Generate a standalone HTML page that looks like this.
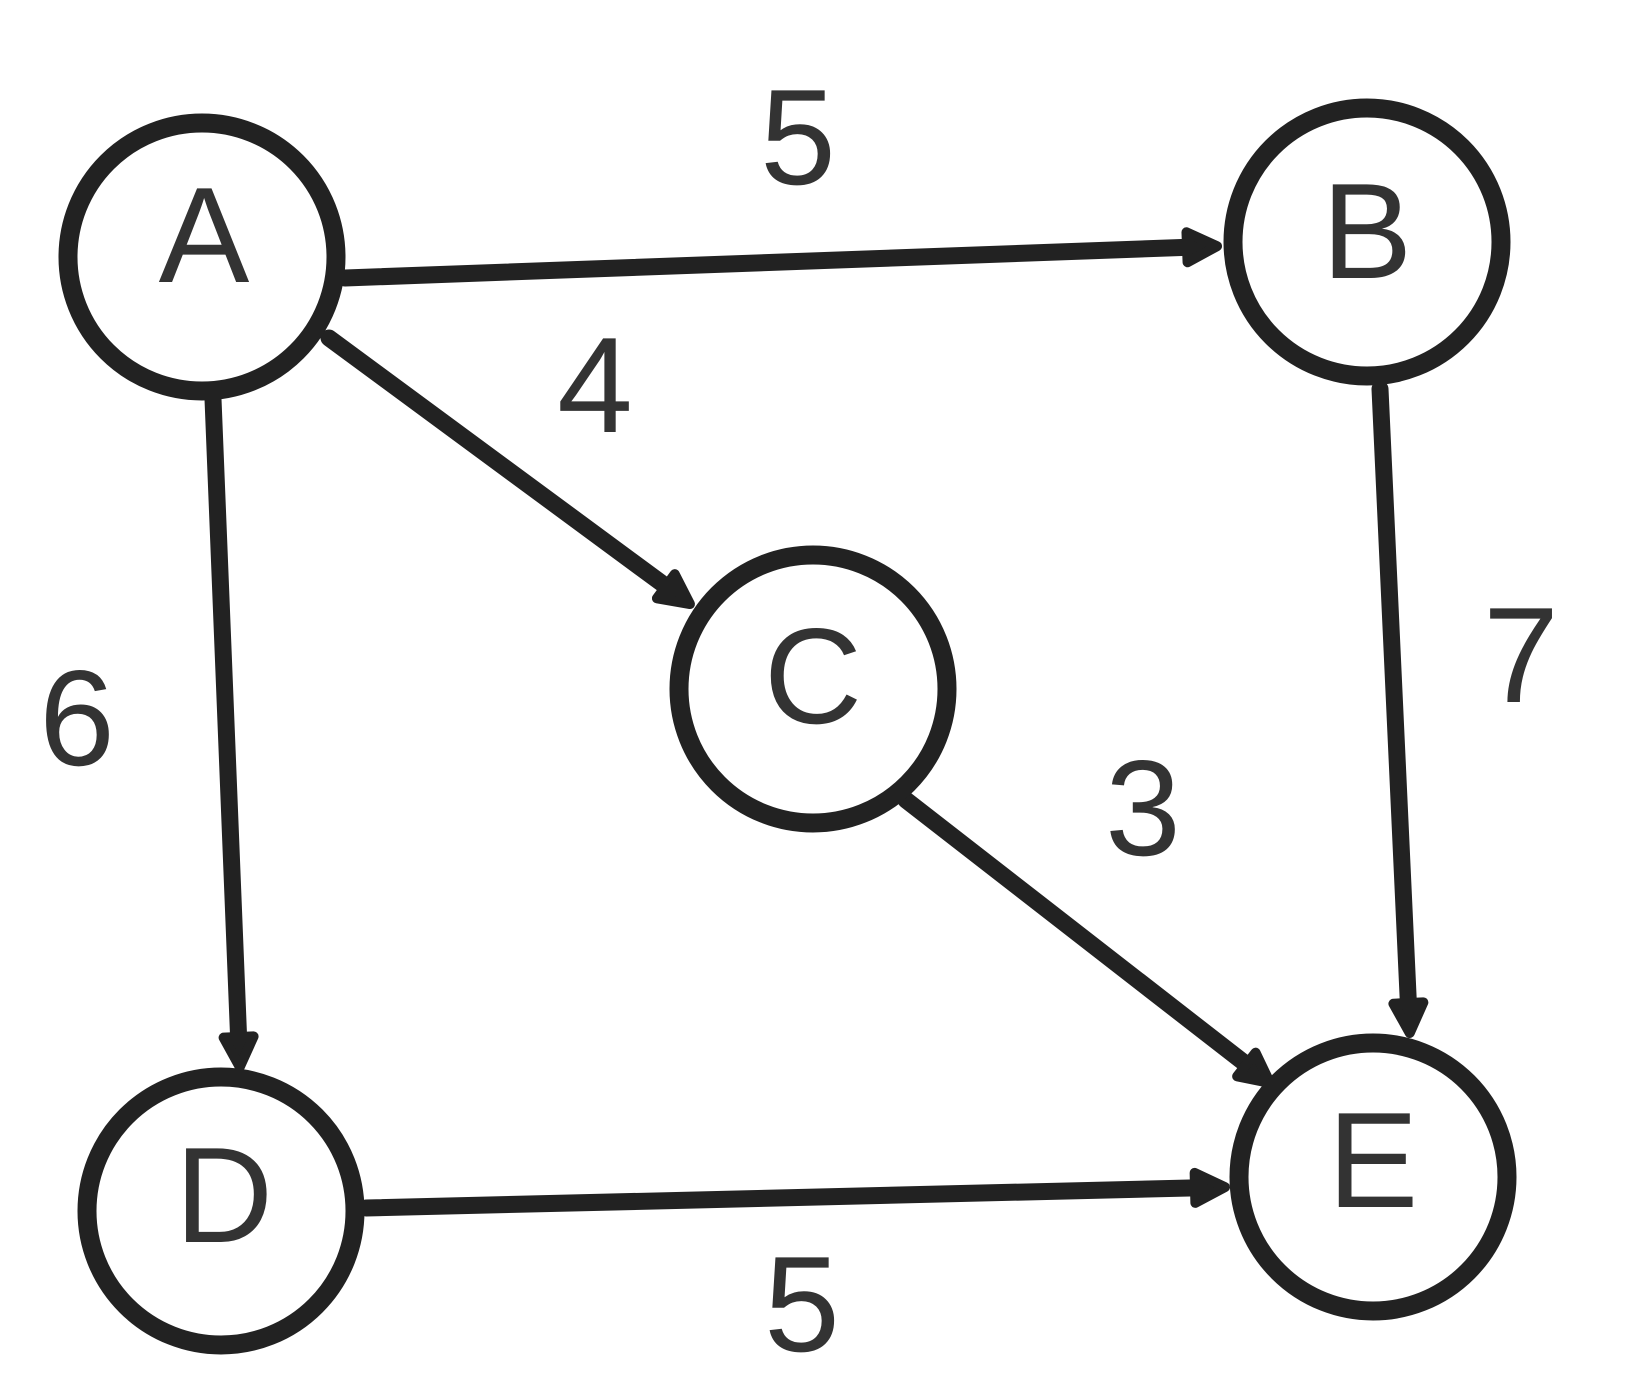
<!DOCTYPE html>
<html><head><meta charset="utf-8"><style>
html,body{margin:0;padding:0;background:#fff;}
svg{display:block;}
text{font-family:"Liberation Sans",sans-serif;font-size:136px;fill:#333;text-anchor:middle;}
</style></head><body>
<svg id="s" width="1648" height="1400" viewBox="0 0 1648 1400" xmlns="http://www.w3.org/2000/svg">
<g id="edges" stroke="#222" stroke-width="17" fill="none" stroke-linecap="round"></g>
<g id="heads" fill="#222" stroke="#222" stroke-width="10" stroke-linejoin="round"></g>
<g stroke="#222" stroke-width="19" fill="#fff">
<circle cx="202" cy="257" r="134"/>
<circle cx="1367" cy="242" r="134"/>
<circle cx="813" cy="689" r="134"/>
<circle cx="221" cy="1211" r="134"/>
<circle cx="1373" cy="1177" r="134"/>
</g>
<text x="204" y="282">A</text>
<text x="1367" y="278">B</text>
<text x="813" y="723">C</text>
<text x="224" y="1242">D</text>
<text x="1373" y="1207">E</text>
<text x="798" y="184">5</text>
<text x="595" y="432">4</text>
<text x="77" y="765">6</text>
<text x="1521" y="702">7</text>
<text x="1143" y="855">3</text>
<text x="802" y="1351">5</text>
</svg>
<script>
var E=[[345,278,1222,246],[329,338,694,607],[213,399,240,1072],[1380,389,1410,1038],[906,800,1274,1086],[366,1208,1230,1187]];
var ns="http://www.w3.org/2000/svg",eg=document.getElementById("edges"),hg=document.getElementById("heads");
E.forEach(function(e){
var dx=e[2]-e[0],dy=e[3]-e[1],L=Math.hypot(dx,dy),ux=dx/L,uy=dy/L,px=-uy,py=ux;
var tx=e[2]-ux*5,ty=e[3]-uy*5,bx=tx-ux*30,by=ty-uy*30,w=15;
var l=document.createElementNS(ns,"line");
l.setAttribute("x1",e[0]);l.setAttribute("y1",e[1]);l.setAttribute("x2",bx+ux*5);l.setAttribute("y2",by+uy*5);
eg.appendChild(l);
var p=document.createElementNS(ns,"polygon");
p.setAttribute("points",tx+","+ty+" "+(bx+px*w)+","+(by+py*w)+" "+(bx-px*w)+","+(by-py*w));
hg.appendChild(p);
});
</script>
</body></html>
